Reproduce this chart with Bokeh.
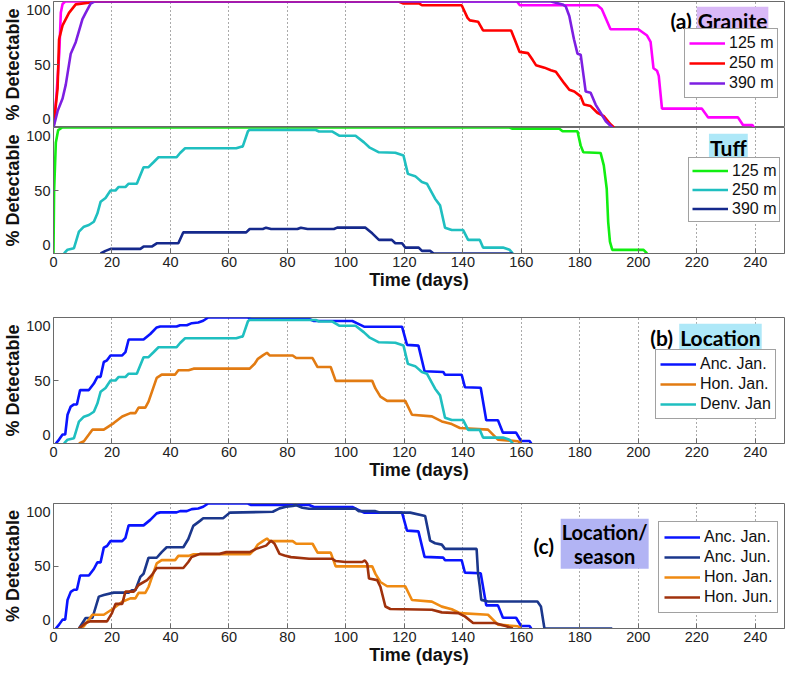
from bokeh.plotting import figure
from bokeh.layouts import column
from bokeh.models import Range1d, FixedTicker, Legend, LegendItem, Label, LinearAxis
from bokeh.embed import file_html
from bokeh.resources import INLINE

# ---------------- data ----------------
x_ticks = [0, 20, 40, 60, 80, 100, 120, 140, 160, 180, 200, 220, 240]
y_ticks = [0, 50, 100]

# (a) Granite
granite_125_x = [0, 1, 2, 2.5, 3.1, 4, 158.5, 159.5, 186, 187.5, 190.5, 200, 203, 204.2, 205.2, 206.4, 207, 208.1, 221.7, 223.9, 234.1, 235.8, 239, 239.5]
granite_125_y = [0, 25, 60, 91, 98, 100, 100, 97, 97, 94, 78, 78, 73, 68, 47, 45, 41, 15, 15, 8, 8, 2, 2, 0]
granite_250_x = [0, 1.4, 1.9, 3.1, 5.3, 7.6, 12, 14, 118, 119.5, 125, 126, 139.6, 141.6, 142.4, 145.2, 146.9, 156.5, 157.7, 159.4, 162.3, 163.9, 165, 167.9, 170.1, 171.8, 174.7, 176.4, 178.1, 180.3, 181.4, 183.7, 186, 188.2, 190.5, 191.7]
granite_250_y = [0, 31, 70, 81, 91, 97.7, 99, 100, 100, 98.5, 98.5, 97, 97, 87, 85, 84, 77, 77, 70, 60, 59, 53.5, 49.5, 47.5, 45.5, 44.3, 35, 30, 28.6, 24.7, 18.2, 17, 11.7, 9, 2.6, 0]
granite_390_x = [0, 1.4, 3.1, 4.2, 5.9, 7.6, 9.9, 11, 12.7, 14, 170.1, 174.1, 175.2, 176.4, 178, 179.2, 180.3, 181.4, 182, 183.7, 185.4, 187.1, 188.8, 191.1]
granite_390_y = [0, 13, 23, 34, 58.6, 67.7, 86, 91, 98.4, 100, 100, 97.7, 96, 88.5, 70, 58.6, 57.8, 39, 28.6, 27.6, 18.2, 11.7, 5.2, 0]

# (a) Tuff
tuff_125_x = [0, 0.2, 0.8, 1.6, 3, 156, 157, 173, 174.1, 179.2, 180.3, 181.2, 187.1, 188.2, 189.2, 189.7, 190.3, 191.1, 201.8, 203]
tuff_125_y = [0, 49, 88, 98, 100, 100, 99, 99, 97, 97, 85.6, 80.3, 79.8, 70, 51.4, 25, 9.4, 2.9, 2.9, 0]
tuff_250_x = [3.6, 4.8, 7, 8.7, 10.4, 12.1, 13.8, 15, 16.1, 17.8, 19.5, 21.2, 22.3, 24.6, 25.7, 28.5, 30.8, 32.5, 34.2, 35.9, 42.1, 43.3, 45, 62.5, 64.2, 64.7, 66.5, 67, 89.7, 90.8, 95.4, 97.7, 103.3, 106.2, 108, 111.3, 116.9, 119.7, 121.2, 123.7, 126, 127.7, 130.5, 132.2, 133.9, 136.2, 140.1, 141.8, 145.8, 146.9, 153.7, 156, 157.1]
tuff_250_y = [0, 3, 4.2, 17.3, 21.3, 22.6, 25.2, 31.7, 41, 44, 50, 50, 52.8, 52.8, 55.4, 55.4, 68.5, 68.5, 72.4, 76.4, 76.4, 79.8, 83.5, 83.5, 84.8, 84.8, 97, 98, 98, 96.8, 96.8, 93.5, 93.5, 88.2, 84.3, 80.3, 80, 77.7, 63.2, 61.4, 56.7, 55.4, 43.5, 38.2, 20.5, 18.6, 18.6, 10.8, 10.8, 4.7, 4.7, 2.9, 0]
tuff_390_x = [16.1, 17.8, 19.5, 29.7, 30.8, 33.6, 35.3, 42.7, 44.4, 65.9, 67.1, 71.6, 72.7, 74.4, 83.4, 84.6, 86.9, 95.9, 97, 106.7, 109, 111.3, 115.7, 116.9, 119.2, 120.3, 124.9, 126, 128.8, 130, 157]
tuff_390_y = [0, 2.1, 3.7, 3.7, 5.5, 5.5, 8.1, 8.1, 16.8, 16.8, 19.4, 19.4, 20.5, 19.4, 19.4, 20.5, 19.4, 19.4, 20.5, 20.5, 16, 10.8, 10.8, 8.1, 8.1, 4.7, 4.7, 2.1, 2.1, 0, 0]

# (b) Location / (c) Location-season
anc_jan_x = [0.8, 1.9, 3.1, 4, 4.8, 5.9, 7, 8, 9.1, 12.1, 13.8, 15, 16.1, 17.2, 18.3, 19.5, 23.5, 24.6, 25.7, 30.8, 33.1, 35.3, 36.5, 42.1, 43.3, 45.6, 47.3, 49.5, 51.2, 52.9, 66.5, 67.6, 87.4, 89.1, 102.2, 103.9, 106.2, 119.2, 120.9, 124.8, 126.9, 133.3, 133.9, 139.6, 140.7, 146.1, 148, 152, 153.7, 158.2, 159.9, 162.8, 163.4]
anc_jan_y = [0, 3.1, 7.1, 7.1, 22.8, 29.3, 31, 31, 42.4, 42.4, 47.6, 52.9, 52.9, 64.7, 66, 69.9, 69.9, 72.5, 82.5, 82.5, 86.9, 92.1, 92.9, 92.9, 93.9, 93.9, 95.5, 96, 97.4, 100, 100, 98.8, 98.8, 97.2, 97.2, 95.3, 92.7, 92.7, 78.3, 77.7, 57.3, 56.7, 54.6, 54.6, 44.7, 44.2, 18.5, 18.5, 8.6, 8.6, 2, 2, 0]
hon_jan_x = [8.7, 10.4, 12.1, 13.3, 17.2, 18.9, 20.6, 23.5, 26.3, 28, 29.1, 31.4, 32.5, 35.3, 37, 41.6, 42.7, 46.2, 47.9, 67.1, 68.8, 69.9, 71.6, 73, 73.9, 81.8, 83, 88.6, 90.3, 94.8, 96.5, 109, 110.1, 111.8, 114.1, 120.3, 122.6, 129.4, 132.8, 136.2, 139, 148.6, 152, 158.8, 160]
hon_jan_y = [0, 1.8, 7.1, 11, 11, 13.6, 16.2, 21.4, 24.1, 24.1, 28.5, 28.5, 33.2, 52.1, 54.7, 54.7, 58.1, 58.1, 59.4, 59.4, 63.3, 67.2, 69.9, 72, 69.9, 69.9, 67.8, 67.8, 60.7, 60.7, 49.7, 49.7, 43.7, 37.2, 33.8, 33.8, 22.8, 21.5, 17.5, 15.4, 12.3, 11, 3.1, 1.8, 0]
denv_jan_x = tuff_250_x
denv_jan_y = tuff_250_y
anc_jun_x = [8.7, 11, 13.3, 15.5, 17.2, 20.6, 25.7, 26.8, 28, 29.7, 30.8, 32.5, 35.3, 37, 38.7, 44.4, 46.1, 47.8, 50.1, 51.2, 58, 60.3, 75, 77.3, 79.5, 81.8, 82.9, 85.1, 87.4, 103.3, 104.4, 110.1, 111.8, 122, 127.1, 128.8, 130.5, 132.8, 133.9, 144.7, 145.2, 145.8, 146.3, 148.6, 165.5, 166.7, 167.9, 191.1]
anc_jun_y = [0, 8.4, 8.4, 25.5, 26.8, 28.7, 28.7, 30.6, 30.6, 41.3, 43.8, 56.6, 56.6, 61.1, 65, 65, 71.6, 82.1, 86.1, 88.2, 88.2, 92.7, 93.4, 96.1, 97.4, 98, 98.7, 96.6, 95.8, 95.8, 93.9, 93.9, 92.7, 92.7, 90, 70.3, 68.2, 67.1, 63.7, 63.7, 43.9, 33.4, 22.9, 21.6, 21.6, 17.6, 0, 0]
hon_jun_x = [8.7, 11, 12.6, 18.3, 20, 21.2, 23.5, 24.6, 27.5, 29.1, 32, 33.6, 35.3, 44.4, 46.1, 47.2, 50.1, 56.8, 59.1, 67.1, 69.3, 72.7, 74.4, 75.6, 77.3, 79, 81.2, 87.4, 95.3, 96.5, 99.9, 105.6, 106.5, 107.3, 107.9, 110.7, 111.8, 113.5, 115.2, 129.4, 132.8, 138.4, 140.7, 143.5, 150.9, 154.9, 157.1]
hon_jun_y = [0, 4.4, 5.7, 5.7, 12.3, 19.7, 19.7, 29.5, 29.5, 34.8, 38.7, 42.7, 48.4, 48.4, 53.2, 57.1, 59.7, 59.7, 61.1, 61.1, 63.7, 66.3, 70.3, 67.8, 59.7, 58.4, 57.1, 55.8, 55.8, 54, 53.2, 53.2, 54.5, 51.8, 40, 38.7, 33.4, 17.6, 15.6, 15, 12.9, 12.3, 9.7, 4.4, 4.4, 1.8, 0]

# ---------------- styling ----------------
FONT = "Liberation Sans"
TFONT = "Lato"
FW = 731
AX = "#6a6a6a"
LW = 2.6

# y tick labels sit slightly inside the panel (as in the reference): a label axis on a
# shifted range puts label "0" at LAB_LO and "100" at LAB_HI of the data range.
LAB_LO, LAB_HI = 7.0, 93.0
_k = (LAB_HI - LAB_LO) / 100.0
LAB_RANGE = (-LAB_LO / _k, (100 - LAB_LO) / _k)
MID_TICK = (50 - LAB_LO) / _k


def panel(fh, top_border, show_x):
    p = figure(frame_width=FW, frame_height=fh, x_range=Range1d(0, 250), y_range=Range1d(0, 100),
               output_backend="svg", toolbar_location=None, y_axis_location=None,
               min_border_left=45, min_border_right=2, min_border_top=top_border, min_border_bottom=0)
    p.outline_line_color = AX
    p.outline_line_width = 1
    p.background_fill_color = "white"
    p.border_fill_color = "white"
    p.extra_y_ranges = {"lab": Range1d(*LAB_RANGE)}
    ya = LinearAxis(y_range_name="lab", ticker=FixedTicker(ticks=y_ticks, minor_ticks=[MID_TICK]))
    ya.major_tick_in = 0
    ya.major_tick_out = 0
    ya.minor_tick_in = 5
    ya.minor_tick_out = 0
    ya.minor_tick_line_color = AX
    ya.axis_line_color = AX
    ya.major_label_text_font = FONT
    ya.major_label_text_font_size = "14.5px"
    ya.major_label_text_color = "#222222"
    ya.major_label_standoff = 3
    ya.axis_label = "% Detectable"
    ya.axis_label_text_font = FONT
    ya.axis_label_text_font_size = "18px"
    ya.axis_label_text_font_style = "bold"
    ya.axis_label_text_color = "#111111"
    ya.axis_label_standoff = 0
    p.add_layout(ya, "left")
    # x axis and dotted vertical grid
    p.xaxis.ticker = FixedTicker(ticks=x_ticks, minor_ticks=[])
    p.xgrid.ticker = FixedTicker(ticks=x_ticks, minor_ticks=[])
    p.xgrid.grid_line_color = "#555555"
    p.xgrid.grid_line_dash = "1 3"
    p.xgrid.grid_line_width = 1
    p.ygrid.visible = False
    if show_x:
        p.xaxis.major_tick_in = 5
        p.xaxis.major_tick_out = 0
        p.xaxis.major_tick_line_color = AX
        p.xaxis.axis_line_color = AX
        p.xaxis.major_label_text_font = FONT
        p.xaxis.major_label_text_font_size = "14.5px"
        p.xaxis.major_label_text_color = "#222222"
        p.xaxis.major_label_standoff = 3
        p.xaxis.axis_label = "Time (days)"
        p.xaxis.axis_label_text_font = FONT
        p.xaxis.axis_label_text_font_size = "18px"
        p.xaxis.axis_label_text_font_style = "bold"
        p.xaxis.axis_label_text_color = "#111111"
        p.xaxis.axis_label_standoff = 0
    else:
        p.xaxis.visible = False
    return p


def add_legend(p, items, loc, lh=20, pad=4):
    lg = Legend(items=[LegendItem(label=t, renderers=[r]) for t, r in items], location=loc)
    lg.margin = 0
    lg.padding = pad
    lg.spacing = 0
    lg.glyph_width = 36
    lg.glyph_height = lh
    lg.label_height = lh
    lg.label_standoff = 4
    lg.label_text_font = FONT
    lg.label_text_font_size = "16px"
    lg.label_text_color = "#111111"
    lg.border_line_color = "#444444"
    lg.border_line_width = 1
    lg.background_fill_color = "white"
    lg.background_fill_alpha = 1
    p.add_layout(lg)


def title(p, x, y, text, align, bg=None, size="21px", multiline=False):
    kw = dict(x=x, y=y, text=text, text_align=align, text_baseline="middle", text_font=TFONT,
              text_font_size=size, text_font_style="bold", text_color="#000000")
    if multiline:
        kw["text_line_height"] = 1.0
    if bg:
        kw.update(background_fill_color=bg, background_fill_alpha=1, padding=1)
    p.add_layout(Label(**kw))


# (a) Granite
pa = panel(126, 1, False)
r1 = pa.line(granite_125_x, granite_125_y, line_color="#ff00ff", line_width=LW)
r2 = pa.line(granite_250_x, granite_250_y, line_color="#ff0000", line_width=LW)
r3 = pa.line(granite_390_x, granite_390_y, line_color="#7d1fe2", line_width=LW)
add_legend(pa, [("125 m", r1), ("250 m", r2), ("390 m", r3)], (631, 29))
title(pa, 218.3, 85.2, "(a)", "right")
title(pa, 220, 85.2, "Granite", "left", bg="#d9b9f7")

# Tuff
pt = panel(126, 0, True)
t1 = pt.line(tuff_125_x, tuff_125_y, line_color="#11ee11", line_width=LW)
t2 = pt.line(tuff_250_x, tuff_250_y, line_color="#1fbfc0", line_width=LW)
t3 = pt.line(tuff_390_x, tuff_390_y, line_color="#15298c", line_width=LW)
add_legend(pt, [("125 m", t1), ("250 m", t2), ("390 m", t3)], (635, 31), lh=19, pad=3)
title(pt, 230.8, 84.3, "Tuff", "center", bg="#aee8f8")

# (b) Location
pb = panel(126, 25, True)
b1 = pb.line(anc_jan_x, anc_jan_y, line_color="#0a14ff", line_width=LW)
b2 = pb.line(hon_jan_x, hon_jan_y, line_color="#e27b12", line_width=LW)
b3 = pb.line(denv_jan_x, denv_jan_y, line_color="#1fbfc0", line_width=LW)
add_legend(pb, [("Anc. Jan.", b1), ("Hon. Jan.", b2), ("Denv. Jan", b3)], (602, 24))
title(pb, 211.9, 84.3, "(b)", "right")
title(pb, 214, 84.3, "Location", "left", bg="#aee8f8")

# (c) Location / season
pc = panel(125, 21, True)
c1 = pc.line(anc_jan_x, anc_jan_y, line_color="#0a14ff", line_width=LW)
c2 = pc.line(anc_jun_x, anc_jun_y, line_color="#1b378c", line_width=LW)
c3 = pc.line(hon_jan_x, hon_jan_y, line_color="#ef8a12", line_width=LW)
c4 = pc.line(hon_jun_x, hon_jun_y, line_color="#a0320c", line_width=LW)
add_legend(pc, [("Anc. Jan.", c1), ("Anc. Jun.", c2), ("Hon. Jan.", c3), ("Hon. Jun.", c4)], (605, 15), pad=5)
title(pc, 171.2, 66.6, "(c)", "right")
title(pc, 188.5, 67.8, "Location/\nseason", "center", bg="#b2b4f4", size="20px", multiline=True)

layout = column(pa, pt, pb, pc, spacing=0)
open("out.html", "w").write(file_html(layout, INLINE))
